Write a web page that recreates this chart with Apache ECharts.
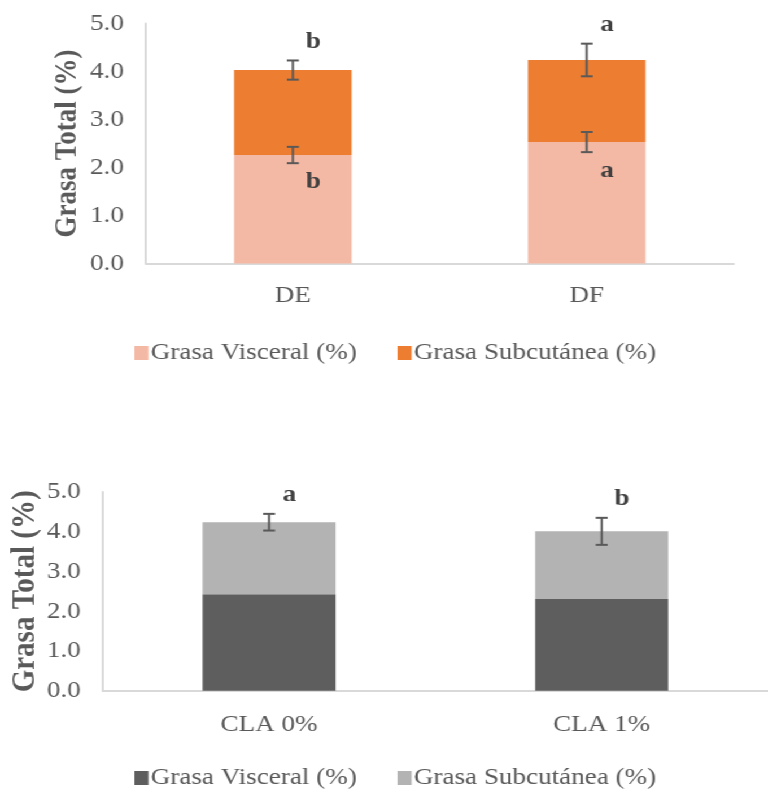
<!DOCTYPE html>
<html>
<head>
<meta charset="utf-8">
<script src="https://cdn.jsdelivr.net/npm/echarts@6/dist/echarts.min.js"></script>
<style>
html,body{margin:0;padding:0;background:#fff;overflow:hidden;}
#wrap{position:absolute;left:0;top:0;width:680px;height:789px;transform:scaleX(1.1294);transform-origin:0 0;}
#c1{position:absolute;left:0;top:0;width:680px;height:400px;}
#c2{position:absolute;left:0;top:400px;width:680px;height:389px;}
</style>
</head>
<body>
<div id="wrap">
<div id="c1"></div>
<div id="c2"></div>
</div>
<script>
// ---- Data: top chart ----
const catsTop = ['DE', 'DF'];
const visceralTop = [2.26, 2.53];
const subcutTop = [1.77, 1.71];
const visceralErrTop = [0.17, 0.21];
const totalErrTop = [0.20, 0.34];
const visceralLettersTop = ['b', 'a'];
const totalLettersTop = ['b', 'a'];

// ---- Data: bottom chart ----
const catsBot = ['CLA 0%', 'CLA 1%'];
const visceralBot = [2.43, 2.31];
const subcutBot = [1.81, 1.70];
const totalErrBot = [0.21, 0.34];
const totalLettersBot = ['a', 'b'];

const yTicks = ['0.0', '1.0', '2.0', '3.0', '4.0', '5.0'];
const seriesNames = ['Grasa Visceral (%)', 'Grasa Subcutánea (%)'];

const FONT = "'Liberation Serif', 'Times New Roman', serif";
const TXT = '#595959';

function errSeries(cats, base, err, letters, where) {
  const data = cats.map((c, i) => [i, base[i], err[i]]);
  return {
    type: 'custom',
    silent: true,
    z: 10,
    renderItem: function (params, api) {
      const x = api.value(0), y = api.value(1), e = api.value(2);
      const letter = letters ? letters[params.dataIndex] : '';
      const top = api.coord([x, y + e]);
      const bot = api.coord([x, y - e]);
      const cap = 5.3;
      const style = { stroke: '#595959', lineWidth: 2 };
      const children = [
        { type: 'line', shape: { x1: top[0], y1: top[1], x2: bot[0], y2: bot[1] }, style: style },
        { type: 'line', shape: { x1: top[0] - cap, y1: top[1], x2: top[0] + cap, y2: top[1] }, style: style },
        { type: 'line', shape: { x1: bot[0] - cap, y1: bot[1], x2: bot[0] + cap, y2: bot[1] }, style: style }
      ];
      if (letter) {
        const ty = where === 'above' ? top[1] - 19 : bot[1] + 19;
        children.push({
          type: 'text',
          style: {
            text: letter, x: top[0] + 18, y: ty,
            align: 'center', verticalAlign: 'middle',
            font: 'bold 24px ' + FONT, fill: '#404040'
          }
        });
      }
      return { type: 'group', children: children };
    },
    data: data
  };
}

function makeOption(cfg) {
  return {
    animation: false,
    textStyle: { fontFamily: FONT },
    grid: cfg.grid,
    legend: {
      data: seriesNames,
      left: cfg.legendLeft,
      top: cfg.legendTop,
      itemWidth: 12.5, itemHeight: 14, itemGap: 36,
      icon: 'rect',
      textStyle: { fontFamily: FONT, fontSize: 24, color: TXT, padding: [0, 0, 0, -3] }
    },
    xAxis: {
      type: 'category',
      data: cfg.cats,
      axisLine: { lineStyle: { color: '#D9D9D9', width: 2 } },
      axisTick: { show: false },
      axisLabel: { fontFamily: FONT, fontSize: 24, color: TXT, margin: cfg.xMargin }
    },
    yAxis: {
      type: 'value',
      min: 0, max: 5, interval: 1,
      name: 'Grasa Total (%)',
      nameLocation: 'middle',
      nameGap: cfg.nameGap,
      nameMoveOverlap: false,
      nameTextStyle: { fontFamily: FONT, fontSize: cfg.nameSize, fontWeight: 'bold', color: TXT },
      axisLine: { show: true, lineStyle: { color: '#D9D9D9', width: 2 } },
      axisTick: { show: false },
      splitLine: { show: false },
      axisLabel: {
        fontFamily: FONT, fontSize: 24, color: TXT, margin: 19.5,
        formatter: function (v) { return yTicks[Math.round(v)]; }
      }
    },
    series: [
      { name: seriesNames[0], type: 'bar', stack: 't', barWidth: '40%', data: cfg.visceral,
        itemStyle: { color: cfg.colors[0] } },
      { name: seriesNames[1], type: 'bar', stack: 't', barWidth: '40%', data: cfg.subcut,
        itemStyle: { color: cfg.colors[1] } }
    ].concat(cfg.extra)
  };
}

const totalTop = visceralTop.map((v, i) => v + subcutTop[i]);
const totalBot = visceralBot.map((v, i) => v + subcutBot[i]);

const c1 = echarts.init(document.getElementById('c1'), null, { renderer: 'canvas' });
c1.setOption(makeOption({
  cats: catsTop,
  grid: { left: 129.2, top: 23.5, width: 520.4, height: 240 },
  legendLeft: 114, legendTop: 336,
  xMargin: 20, nameGap: 55.5, nameSize: 27,
  visceral: visceralTop, subcut: subcutTop,
  colors: ['#F4B9A5', '#ED7D31'],
  extra: [
    errSeries(catsTop, visceralTop, visceralErrTop, visceralLettersTop, 'below'),
    errSeries(catsTop, totalTop, totalErrTop, totalLettersTop, 'above')
  ]
}));

const c2 = echarts.init(document.getElementById('c2'), null, { renderer: 'canvas' });
c2.setOption(makeOption({
  cats: catsBot,
  grid: { left: 89.1, top: 92, width: 599.1, height: 198.7 },
  legendLeft: 114, legendTop: 361,
  xMargin: 22, nameGap: 54, nameSize: 29,
  visceral: visceralBot, subcut: subcutBot,
  colors: ['#5E5E5E', '#B3B3B3'],
  extra: [
    errSeries(catsBot, totalBot, totalErrBot, totalLettersBot, 'above')
  ]
}));
</script>
</body>
</html>
